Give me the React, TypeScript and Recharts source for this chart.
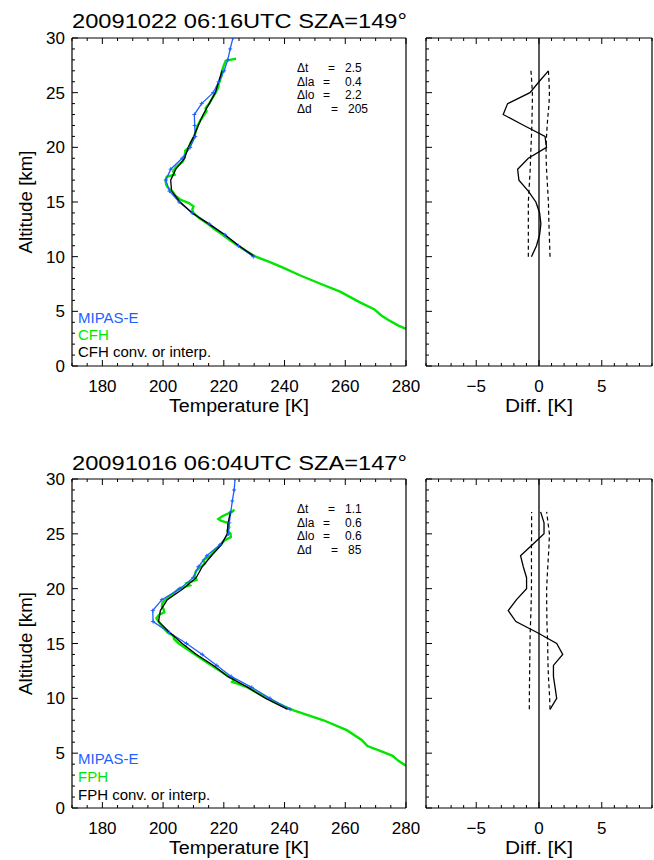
import React from 'react';
import { LineChart, Line, XAxis, YAxis, ReferenceLine } from 'recharts';

const FONT = '"Liberation Sans", Arial, sans-serif';
const BLUE = '#1f5fff';
const GREEN = '#00e600';

// ---------- axis ticks ----------
const TEMP_LABELS = [180, 200, 220, 240, 260, 280];
const TEMP_TICKS = Array.from({ length: 23 }, (_, i) => 170 + 5 * i);
const ALT_LABELS = [0, 5, 10, 15, 20, 25, 30];
const ALT_TICKS = Array.from({ length: 31 }, (_, i) => i);
const DIFF_LABELS = [-5, 0, 5];
const DIFF_TICKS = Array.from({ length: 19 }, (_, i) => i - 9);

// ---------- panel 1 : 20091022 ----------
const MIPAS_ALT_1 = [10, 11, 12, 13, 14, 15, 16, 17, 18, 19, 20, 21, 22, 23, 24, 25, 26, 27, 28, 29, 30];
const MIPAS_T_1 = [229.7, 224.8, 220.4, 215.2, 209.6, 205.3, 202.1, 200.9, 202.5, 206.3, 208.9, 210.6, 210.4, 210.3, 212.7, 216.5, 218.3, 220.1, 221.3, 222.1, 223.0];
const CONV_ALT_1 = [10, 11, 12, 13, 14, 15, 16, 17, 18, 19, 20, 21, 22, 23, 24, 25, 26, 27];
const CONV_T_1 = [230.2, 225.0, 220.3, 215.0, 209.6, 205.6, 202.8, 202.5, 204.2, 207.1, 208.3, 210.1, 211.6, 213.2, 215.2, 217.2, 218.3, 219.4];
const CFH_1: [number, number][] = [
  [3.4, 280], [3.7, 277.5], [4.2, 274.2], [4.6, 272.0], [5.2, 269.5], [5.8, 265.0], [6.8, 258.3], [7.5, 252.0],
  [8.3, 245.0], [9.0, 239.5], [9.5, 235.2], [10.0, 230.5], [10.5, 227.5], [11.0, 224.7], [11.5, 222.0], [12.0, 219.6],
  [12.5, 217.0], [13.0, 214.7], [13.5, 212.0], [14.0, 210.0], [14.3, 209.6], [14.6, 210.0], [14.9, 208.5], [15.2, 205.8],
  [15.6, 204.0], [16.0, 203.0], [16.3, 201.6], [16.6, 201.0], [17.0, 200.8], [17.3, 201.2], [17.5, 203.8], [17.8, 203.3],
  [18.2, 204.2], [18.7, 206.5], [19.0, 207.0], [19.4, 207.2], [19.7, 207.3], [20.0, 208.5], [20.5, 209.2], [21.0, 210.3],
  [21.5, 210.8], [22.0, 211.4], [22.5, 212.3], [23.0, 213.6], [23.3, 214.3], [23.6, 214.0], [24.0, 215.2], [24.5, 216.2],
  [25.0, 217.3], [25.5, 218.2], [25.8, 218.3], [26.1, 218.7], [26.6, 219.3], [27.0, 219.4], [27.5, 220.0], [27.9, 220.6],
  [28.0, 222.0], [28.1, 224.0],
];
const DIFF_ALT_1 = [10, 11, 12, 13, 14, 15, 16, 17, 18, 19, 20, 21, 22, 23, 24, 25, 26, 27];
const DIFF_1 = [-0.6, -0.2, 0.05, 0.15, 0.05, -0.25, -0.85, -1.6, -1.7, -0.85, 0.6, 0.48, -1.2, -2.85, -2.5, -0.72, 0.0, 0.75];
const ERR_LO_1 = [-0.85, -0.85, -0.85, -0.85, -0.85, -0.85, -0.8, -0.75, -0.7, -0.67, -0.64, -0.6, -0.57, -0.55, -0.53, -0.53, -0.58, -0.64];
const ERR_HI_1 = [0.88, 0.85, 0.82, 0.79, 0.77, 0.75, 0.7, 0.65, 0.6, 0.57, 0.56, 0.6, 0.65, 0.72, 0.8, 0.83, 0.8, 0.75];

// ---------- panel 2 : 20091016 ----------
const MIPAS_ALT_2 = [9, 10, 11, 12, 13, 14, 15, 16, 17, 18, 19, 20, 21, 22, 23, 24, 25, 26, 27, 28, 29, 30];
const MIPAS_T_2 = [241.8, 235.2, 229.2, 222.4, 217.7, 212.9, 207.7, 202.0, 196.7, 196.6, 199.6, 205.6, 209.9, 211.6, 214.4, 218.7, 221.5, 221.8, 222.3, 222.8, 223.4, 223.7];
const CONV_ALT_2 = [9, 10, 11, 12, 13, 14, 15, 16, 17, 18, 19, 20, 21, 22, 23, 24, 25, 26, 27];
const CONV_T_2 = [241.0, 233.8, 227.9, 221.3, 216.6, 211.0, 206.3, 202.2, 198.5, 199.1, 201.4, 206.6, 210.9, 212.9, 215.9, 219.2, 221.1, 221.4, 222.2];
const FPH_2: [number, number][] = [
  [3.85, 280], [4.3, 277.5], [4.75, 275.6], [5.2, 271.5], [5.65, 267.3], [6.2, 265.4], [7.1, 260.5], [8.0, 252.8],
  [8.9, 243.0], [9.5, 238.0], [10.0, 234.3], [10.5, 231.0], [11.0, 227.8], [11.35, 224.5], [11.5, 222.8], [11.7, 223.5],
  [12.0, 221.5], [12.5, 218.8], [13.0, 216.0], [13.5, 213.2], [14.0, 210.5], [14.5, 207.8], [15.0, 205.2], [15.4, 203.6],
  [15.7, 203.4], [16.0, 201.5], [16.3, 200.5], [16.6, 199.6], [17.0, 198.5], [17.3, 197.8], [17.6, 198.6], [17.85, 200.4],
  [18.1, 200.2], [18.4, 199.6], [18.7, 199.8], [19.1, 201.2], [19.5, 203.2], [20.0, 205.2], [20.3, 208.8], [20.5, 207.8],
  [20.8, 211.0], [21.2, 210.4], [21.6, 210.8], [22.0, 212.4], [22.3, 213.8], [22.6, 213.2], [23.0, 215.6], [23.5, 217.2],
  [24.0, 219.0], [24.4, 220.2], [24.7, 222.3], [25.0, 222.2], [25.3, 221.2], [25.6, 221.8], [26.0, 221.3], [26.2, 219.0],
  [26.35, 218.2], [26.6, 219.5], [27.0, 222.6], [27.2, 223.5],
];
const DIFF_ALT_2 = [9, 10, 11, 12, 13, 14, 15, 16, 17, 18, 19, 20, 21, 22, 23, 24, 25, 26, 27];
const DIFF_2 = [0.88, 1.41, 1.28, 1.15, 1.15, 1.89, 1.41, -0.15, -1.84, -2.45, -1.79, -0.99, -0.99, -1.25, -1.47, -0.53, 0.4, 0.4, 0.13];
const ERR_LO_2 = [-0.77, -0.77, -0.76, -0.75, -0.74, -0.73, -0.72, -0.7, -0.67, -0.64, -0.62, -0.6, -0.6, -0.6, -0.6, -0.6, -0.59, -0.59, -0.59];
const ERR_HI_2 = [0.88, 0.85, 0.8, 0.75, 0.72, 0.7, 0.69, 0.66, 0.63, 0.62, 0.61, 0.61, 0.65, 0.7, 0.75, 0.8, 0.83, 0.72, 0.61];

const STATS_1 = [['Δt', '2.5'], ['Δla', '0.4'], ['Δlo', '2.2'], ['Δd', '205']];
const STATS_2 = [['Δt', '1.1'], ['Δla', '0.6'], ['Δlo', '0.6'], ['Δd', '85']];

const toPts = (alts: number[], vals: number[]) => alts.map((a, i) => ({ alt: a, t: vals[i] }));
const pairPts = (arr: [number, number][]) => arr.map(([a, t]) => ({ alt: a, t }));

const AXIS = { stroke: '#000', strokeWidth: 1.2 };

const isMult = (v: number, m: number) => Math.abs(v / m - Math.round(v / m)) < 1e-6;
const fmt = (v: number) => (v < 0 ? '\u2212' + Math.abs(v) : String(v));

const makeTick = (side: 'bottom' | 'top' | 'left' | 'right', major: number, labels: number[] | null) => (props: any) => {
  const { x, y, payload } = props;
  const v = payload.value;
  const len = isMult(v, major) ? 6 : 3;
  let d = '';
  if (side === 'bottom') d = `M${x},${y}V${y - len}`;
  if (side === 'top') d = `M${x},${y}V${y + len}`;
  if (side === 'left') d = `M${x},${y}H${x + len}`;
  if (side === 'right') d = `M${x},${y}H${x - len}`;
  const showLabel = labels && labels.includes(v);
  return (
    <g>
      <path d={d} stroke="#000" strokeWidth={1} />
      {showLabel && side === 'bottom' && (
        <text x={x} y={y + 26} textAnchor="middle" fontSize={17} fontFamily={FONT} fill="#000">{fmt(v)}</text>
      )}
      {showLabel && side === 'left' && (
        <text x={x - 7} y={y + 6} textAnchor="end" fontSize={17} fontFamily={FONT} fill="#000">{fmt(v)}</text>
      )}
    </g>
  );
};

const plusDot = (props: any) => {
  const { cx, cy, index } = props;
  if (cx == null || cy == null) return <g key={`d${index}`} />;
  return <path key={`d${index}`} d={`M${cx - 2},${cy}H${cx + 2}M${cx},${cy - 2}V${cy + 2}`} stroke={BLUE} strokeWidth={1} />;
};

const commonAxis = { tickSize: 0, tickMargin: 0, tickLine: false, axisLine: AXIS, interval: 0 as const, allowDataOverflow: true };

function ProfilePanel({ top, height, mipas, conv, sonde }: any) {
  return (
    <div style={{ position: 'absolute', left: 0, top, width: 420, height }}>
      <LineChart width={420} height={height} layout="vertical" margin={{ top: 37, right: 13, bottom: 0, left: 0 }}>
        <XAxis type="number" domain={[170, 280]} ticks={TEMP_TICKS} height={54} {...commonAxis} tick={makeTick('bottom', 20, TEMP_LABELS)} />
        <XAxis xAxisId="top" orientation="top" type="number" domain={[170, 280]} ticks={TEMP_TICKS} height={1} {...commonAxis} tick={makeTick('top', 20, null)} />
        <YAxis type="number" dataKey="alt" domain={[0, 30]} reversed ticks={ALT_TICKS} width={72} {...commonAxis} tick={makeTick('left', 5, ALT_LABELS)} />
        <YAxis yAxisId="right" orientation="right" type="number" domain={[0, 30]} reversed ticks={ALT_TICKS} width={1} {...commonAxis} tick={makeTick('right', 5, null)} />
        <Line data={sonde} dataKey="t" type="linear" stroke={GREEN} strokeWidth={2.4} dot={false} isAnimationActive={false} />
        <Line data={mipas} dataKey="t" type="linear" stroke={BLUE} strokeWidth={1.3} dot={plusDot} isAnimationActive={false} />
        <Line data={conv} dataKey="t" type="linear" stroke="#000" strokeWidth={1.3} dot={false} isAnimationActive={false} />
      </LineChart>
    </div>
  );
}

function DiffPanel({ top, height, diff, lo, hi }: any) {
  return (
    <div style={{ position: 'absolute', left: 420, top, width: 234, height }}>
      <LineChart width={234} height={height} layout="vertical" margin={{ top: 37, right: 1, bottom: 0, left: 0 }}>
        <XAxis type="number" domain={[-9, 9]} ticks={DIFF_TICKS} height={54} {...commonAxis} tick={makeTick('bottom', 5, DIFF_LABELS)} />
        <XAxis xAxisId="top" orientation="top" type="number" domain={[-9, 9]} ticks={DIFF_TICKS} height={1} {...commonAxis} tick={makeTick('top', 5, null)} />
        <YAxis type="number" dataKey="alt" domain={[0, 30]} reversed ticks={ALT_TICKS} width={6} {...commonAxis} tick={makeTick('left', 5, null)} />
        <YAxis yAxisId="right" orientation="right" type="number" domain={[0, 30]} reversed ticks={ALT_TICKS} width={1} {...commonAxis} tick={makeTick('right', 5, null)} />
        <ReferenceLine x={0} stroke="#000" strokeWidth={1.3} />
        <Line data={lo} dataKey="t" type="linear" stroke="#000" strokeWidth={1.2} strokeDasharray="4 3" dot={false} isAnimationActive={false} />
        <Line data={hi} dataKey="t" type="linear" stroke="#000" strokeWidth={1.2} strokeDasharray="4 3" dot={false} isAnimationActive={false} />
        <Line data={diff} dataKey="t" type="linear" stroke="#000" strokeWidth={1.3} dot={false} isAnimationActive={false} />
      </LineChart>
    </div>
  );
}

function Stats({ rows, y0 }: { rows: string[][]; y0: number }) {
  const eqX = [328, 323, 323, 331];
  const valX = [345, 345, 345, 348];
  const dy = 13.6;
  return (
    <text fontSize={12} fontFamily={FONT} fill="#000">
      {rows.map((r, i) => (
        <React.Fragment key={i}>
          <tspan x={297} y={y0 + i * dy}>{r[0]}</tspan>
          <tspan x={eqX[i]} y={y0 + i * dy}>=</tspan>
          <tspan x={valX[i]} y={y0 + i * dy}>{r[1]}</tspan>
        </React.Fragment>
      ))}
    </text>
  );
}

function Overlay() {
  const lbl = { fontFamily: FONT, fill: '#000' };
  return (
    <svg width={654} height={860} style={{ position: 'absolute', left: 0, top: 0, pointerEvents: 'none' }}>
      <text x={72} y={27.5} fontSize={20} textLength={335} lengthAdjust="spacingAndGlyphs" {...lbl}>20091022 06:16UTC SZA=149°</text>
      <text x={72} y={470} fontSize={20} textLength={335} lengthAdjust="spacingAndGlyphs" {...lbl}>20091016 06:04UTC SZA=147°</text>
      <Stats rows={STATS_1} y0={72.2} />
      <Stats rows={STATS_2} y0={513.2} />
      <g fontSize={15} fontFamily={FONT}>
        <text x={78} y={323} fill={BLUE}>MIPAS-E</text>
        <text x={78} y={340} fill={GREEN}>CFH</text>
        <text x={78} y={357} fill="#000">CFH conv. or interp.</text>
        <text x={78} y={764} fill={BLUE}>MIPAS-E</text>
        <text x={78} y={781.5} fill={GREEN}>FPH</text>
        <text x={78} y={799.5} fill="#000">FPH conv. or interp.</text>
      </g>
      <text x={239} y={412} fontSize={18} textAnchor="middle" textLength={140} lengthAdjust="spacingAndGlyphs" {...lbl}>Temperature [K]</text>
      <text x={239} y={854} fontSize={18} textAnchor="middle" textLength={140} lengthAdjust="spacingAndGlyphs" {...lbl}>Temperature [K]</text>
      <text x={539} y={412} fontSize={18} textAnchor="middle" textLength={68} lengthAdjust="spacingAndGlyphs" {...lbl}>Diff. [K]</text>
      <text x={539} y={854} fontSize={18} textAnchor="middle" textLength={68} lengthAdjust="spacingAndGlyphs" {...lbl}>Diff. [K]</text>
      <g transform="translate(32,202) rotate(-90)">
        <text x={0} y={0} fontSize={18} textAnchor="middle" textLength={103} lengthAdjust="spacingAndGlyphs" {...lbl}>Altitude [km]</text>
      </g>
      <g transform="translate(32,643.5) rotate(-90)">
        <text x={0} y={0} fontSize={18} textAnchor="middle" textLength={103} lengthAdjust="spacingAndGlyphs" {...lbl}>Altitude [km]</text>
      </g>
    </svg>
  );
}

export default function App() {
  return (
    <div style={{ position: 'absolute', left: 0, top: 0, width: 654, height: 860, background: '#fff', overflow: 'hidden' }}>
      <ProfilePanel top={0} height={420} mipas={toPts(MIPAS_ALT_1, MIPAS_T_1)} conv={toPts(CONV_ALT_1, CONV_T_1)} sonde={pairPts(CFH_1)} />
      <DiffPanel top={0} height={420} diff={toPts(DIFF_ALT_1, DIFF_1)} lo={toPts(DIFF_ALT_1, ERR_LO_1)} hi={toPts(DIFF_ALT_1, ERR_HI_1)} />
      <ProfilePanel top={441} height={421} mipas={toPts(MIPAS_ALT_2, MIPAS_T_2)} conv={toPts(CONV_ALT_2, CONV_T_2)} sonde={pairPts(FPH_2)} />
      <DiffPanel top={441} height={421} diff={toPts(DIFF_ALT_2, DIFF_2)} lo={toPts(DIFF_ALT_2, ERR_LO_2)} hi={toPts(DIFF_ALT_2, ERR_HI_2)} />
      <Overlay />
    </div>
  );
}
